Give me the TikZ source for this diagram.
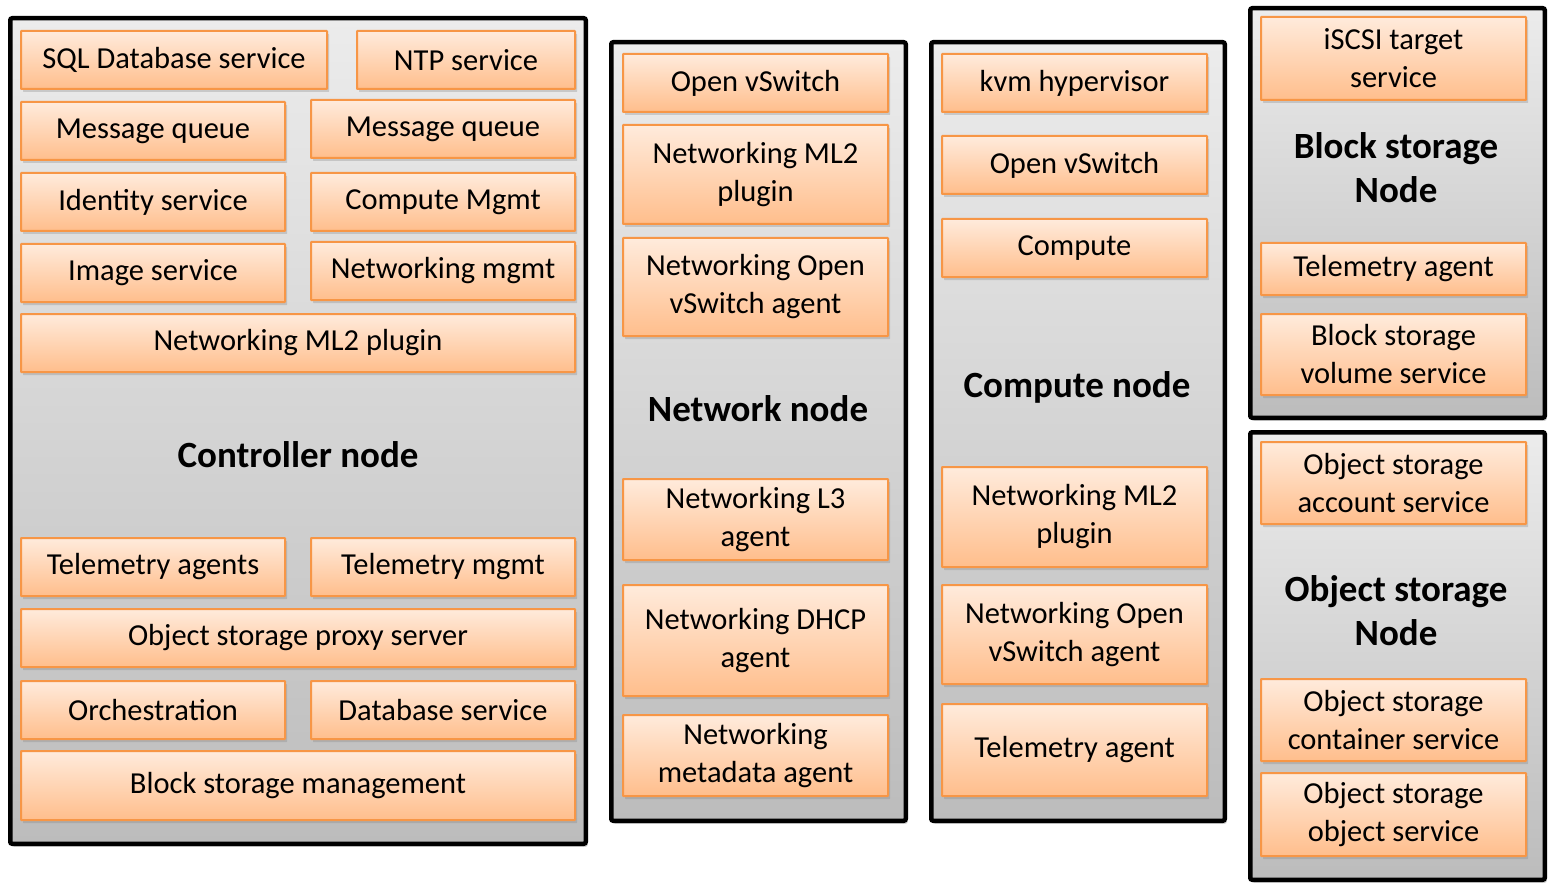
\documentclass[tikz,border=0pt]{standalone}
\usepackage{fontspec}
\setmainfont{Carlito}
\usepackage{tikz}
\usetikzlibrary{shadows,positioning}

\definecolor{panelTop}{RGB}{236,236,236}
\definecolor{panelBot}{RGB}{188,188,188}
\definecolor{svcTop}{RGB}{255,235,220}
\definecolor{svcBot}{RGB}{255,190,140}
\definecolor{svcLine}{RGB}{247,150,70}

\tikzset{
  panel/.style={draw=black, line width=4.5pt, rounded corners=2pt,
    top color=panelTop, bottom color=panelBot, inner sep=0pt,
    drop shadow={shadow xshift=2pt, shadow yshift=-3pt, opacity=.35}},
  svc/.style={draw=svcLine, line width=2pt, rounded corners=.5pt,
    top color=svcTop, bottom color=svcBot, inner sep=0pt, align=center,
    font=\fontsize{30.5}{38}\selectfont,
    drop shadow={shadow xshift=2pt, shadow yshift=-3pt, opacity=.3}},
  title/.style={align=center, inner sep=0pt, font=\fontsize{37}{44}\selectfont\bfseries},
  wide/.style={minimum width=554pt},
  half/.style={minimum width=264pt},
  col/.style={minimum width=265pt}
}

\begin{document}
\begin{tikzpicture}[x=1pt,y=-1pt]
	\useasboundingbox (0,0) rectangle (1554,893);
	
	% controller node
	\node[panel, minimum width=575.5pt, minimum height=825.5pt] (ctrl) at (298,431) {};
	\node[svc, minimum width=306pt, minimum height=58pt] (sql) at (174,60) {SQL Database service};
	\node[svc, minimum width=218pt, minimum height=58pt] (ntp) at (466,60) {NTP service};
	\node[svc, half, minimum height=58pt] (mqa) at (153,131) {Message queue};
	\node[svc, half, minimum height=58pt] (mqb) at (443,129) {Message queue};
	\node[svc, half, minimum height=58pt] (ident) at (153,202) {Identity service};
	\node[svc, half, minimum height=58pt] (cmgmt) at (443,202) {Compute Mgmt};
	\node[svc, half, minimum height=58pt] (image) at (153,273) {Image service};
	\node[svc, half, minimum height=58pt] (nmgmt) at (443,271) {Networking mgmt};
	\node[svc, wide, minimum height=58pt] (cml2) at (298,343) {Networking ML2 plugin};
	\node[title] (ctrltitle) at (298,455) {Controller node};
	\node[svc, half, minimum height=58pt] (telag) at (153,567) {Telemetry agents};
	\node[svc, half, minimum height=58pt] (telmg) at (443,567) {Telemetry mgmt};
	\node[svc, wide, minimum height=58pt] (proxy) at (298,638) {Object storage proxy server};
	\node[svc, half, minimum height=58pt] (orch) at (153,710) {Orchestration};
	\node[svc, half, minimum height=58pt] (dbsvc) at (443,710) {Database service};
	\node[svc, wide, minimum height=69pt] (blkmg) at (298,785.5) {Block storage management};
	
	% network node
	\node[panel, minimum width=294.5pt, minimum height=778.5pt] (netw) at (758.5,431.5) {};
	\node[svc, col, minimum height=58pt] (novs) at (755.5,83) {Open vSwitch};
	\node[svc, col, minimum height=99pt] (nml2) at (755.5,174.5) {Networking ML2\\plugin};
	\node[svc, col, minimum height=98pt] (novsa) at (755.5,287) {Networking Open\\vSwitch agent};
	\node[title] (netwtitle) at (758,409) {Network node};
	\node[svc, col, minimum height=81pt] (nlthree) at (755.5,519.5) {Networking L3\\agent};
	\node[svc, col, minimum height=111pt] (ndhcp) at (755.5,640.5) {Networking DHCP\\agent};
	\node[svc, col, minimum height=81pt] (nmeta) at (755.5,755.5) {Networking\\metadata agent};
	
	% compute node
	\node[panel, minimum width=293.5pt, minimum height=778.5pt] (comp) at (1078,431.5) {};
	\node[svc, col, minimum height=58pt] (kvm) at (1074.5,83) {kvm hypervisor};
	\node[svc, col, minimum height=58pt] (covs) at (1074.5,165) {Open vSwitch};
	\node[svc, col, minimum height=58pt] (compsvc) at (1074.5,248) {Compute};
	\node[title] (comptitle) at (1077,387) {Compute node};
	\node[svc, col, minimum height=100pt] (pml2) at (1074.5,517) {Networking ML2\\plugin};
	\node[svc, col, minimum height=99pt] (covsa) at (1074.5,634.5) {Networking Open\\vSwitch agent};
	\node[svc, col, minimum height=92pt] (ctel) at (1074.5,750) {Telemetry agent};
	
	% block storage node
	\node[panel, minimum width=294.5pt, minimum height=409.5pt] (blk) at (1397.5,213) {};
	\node[svc, col, minimum height=83pt] (iscsi) at (1393.5,58.5) {iSCSI target\\service};
	\node[title] (blktitle) at (1396,168) {Block storage\\Node};
	\node[svc, col, minimum height=52pt] (btel) at (1393.5,269) {Telemetry agent};
	\node[svc, col, minimum height=81pt] (bvol) at (1393.5,354.5) {Block storage\\volume service};
	
	% object storage node
	\node[panel, minimum width=294.5pt, minimum height=447.5pt] (obj) at (1397.5,656) {};
	\node[svc, col, minimum height=82pt] (oacc) at (1393.5,483) {Object storage\\account service};
	\node[title] (objtitle) at (1396,611) {Object storage\\Node};
	\node[svc, col, minimum height=82pt] (ocont) at (1393.5,720) {Object storage\\container service};
	\node[svc, col, minimum height=83pt] (oobj) at (1393.5,814.5) {Object storage\\object service};
	
\end{tikzpicture}
\end{document}
